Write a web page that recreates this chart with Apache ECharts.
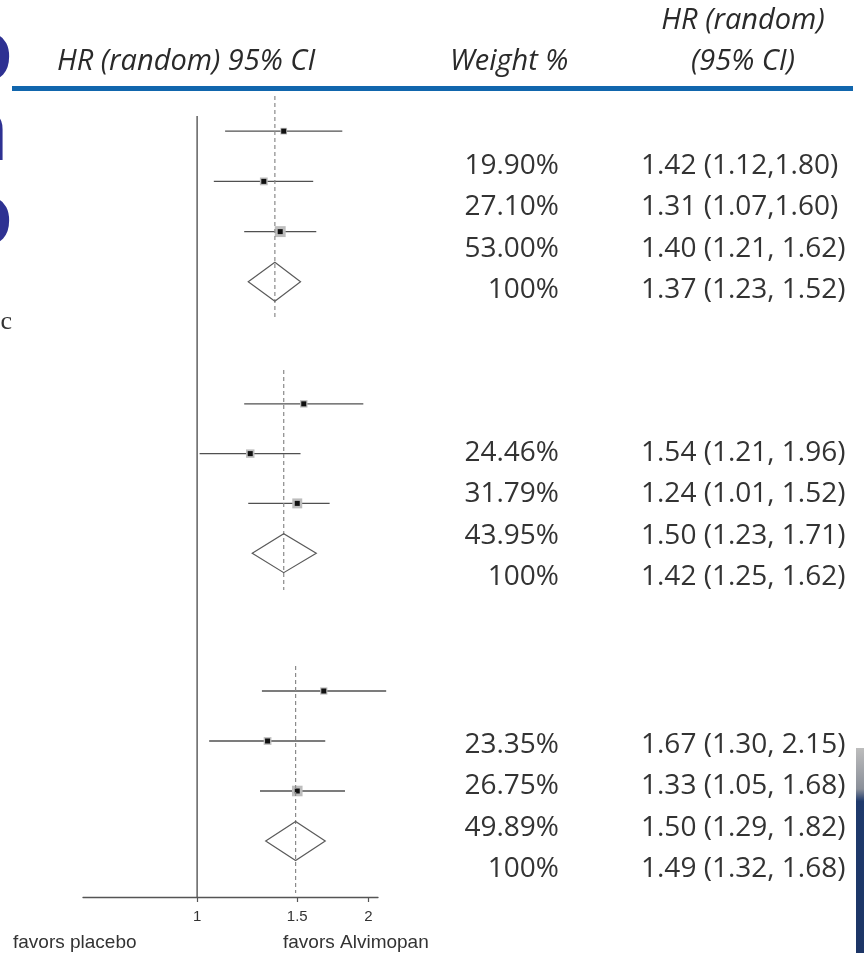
<!DOCTYPE html>
<html>
<head>
<meta charset="utf-8">
<title>Forest plot – HR (random)</title>
<script src="https://cdn.jsdelivr.net/npm/echarts@6/dist/echarts.min.js"></script>
<style>
  html, body { margin: 0; padding: 0; background: #fff; }
  #chart { width: 864px; height: 953px; }
</style>
</head>
<body>
<div id="chart"></div>
<script>
// Study-level hazard ratios per analysis block (three studies each)
const studyHR     = [[1.42, 1.31, 1.40], [1.54, 1.24, 1.50], [1.67, 1.33, 1.50]];
const studyLower  = [[1.12, 1.07, 1.21], [1.21, 1.01, 1.23], [1.30, 1.05, 1.29]];
const studyUpper  = [[1.80, 1.60, 1.62], [1.96, 1.52, 1.71], [2.15, 1.68, 1.82]];
const studyWeight = [[19.90, 27.10, 53.00], [24.46, 31.79, 43.95], [23.35, 26.75, 49.89]];

// Pooled (random-effects) estimates per block
const pooledHR    = [1.37, 1.42, 1.49];
const pooledLower = [1.23, 1.25, 1.32];
const pooledUpper = [1.52, 1.62, 1.68];

// Axis ticks (hazard ratio)
const axisTicks = [1, 1.5, 2];

// Header and footer texts
const headerLeft = 'HR (random) 95% CI';
const headerWeight = 'Weight %';
const headerHR = ['HR (random)', '(95% CI)'];
const footerLeft = 'favors placebo';
const footerRight = 'favors Alvimopan';

const ln = Math.log;
const X_MIN = ln(0.63), X_MAX = ln(2.08);
const PLOT_LEFT = 83, PLOT_WIDTH = 295;

// vertical extent of each block (dashed line span) and its y-range in row units
const blockLayout = [
  { top: 96,  height: 222, min: -0.70, max: 3.72 },
  { top: 370, height: 220, min: -0.68, max: 3.74 },
  { top: 666, height: 227, min: -0.50, max: 4.04 }
];

const grids = [], xAxes = [], yAxes = [], series = [];

blockLayout.forEach((b, g) => {
  grids.push({ left: PLOT_LEFT, width: PLOT_WIDTH, top: b.top, height: b.height });
  xAxes.push({ gridIndex: g, type: 'value', min: X_MIN, max: X_MAX, show: false });
  yAxes.push({ gridIndex: g, type: 'value', min: b.min, max: b.max, inverse: true, show: false });

  const studies = studyHR[g].map((hr, i) =>
    [i, ln(hr), ln(studyLower[g][i]), ln(studyUpper[g][i]), studyWeight[g][i]]);

  series.push({
    type: 'custom',
    xAxisIndex: g, yAxisIndex: g,
    silent: true,
    data: studies,
    renderItem: function (params, api) {
      const row = api.value(0);
      const pE = api.coord([api.value(1), row]);
      const pL = api.coord([api.value(2), row]);
      const pH = api.coord([api.value(3), row]);
      const box = 1.5 * Math.sqrt(api.value(4));
      return {
        type: 'group',
        children: [
          { type: 'line', shape: { x1: pL[0], y1: pL[1], x2: pH[0], y2: pH[1] },
            style: { stroke: '#505050', lineWidth: 1.4 } },
          { type: 'rect', shape: { x: pE[0] - box / 2, y: pE[1] - box / 2, width: box, height: box },
            style: { fill: '#bdbdbd' } },
          { type: 'rect', shape: { x: pE[0] - 2.5, y: pE[1] - 2.5, width: 5, height: 5 },
            style: { fill: '#111' } }
        ]
      };
    }
  });

  // pooled diamond plus dashed reference line at the pooled estimate
  series.push({
    type: 'custom',
    xAxisIndex: g, yAxisIndex: g,
    silent: true,
    data: [[3, ln(pooledHR[g]), ln(pooledLower[g]), ln(pooledUpper[g])]],
    renderItem: function (params, api) {
      const row = api.value(0);
      const pE = api.coord([api.value(1), row]);
      const pL = api.coord([api.value(2), row]);
      const pH = api.coord([api.value(3), row]);
      const cs = params.coordSys;
      const half = 19.5;
      return {
        type: 'group',
        children: [
          { type: 'line', shape: { x1: pE[0], y1: cs.y, x2: pE[0], y2: cs.y + cs.height },
            style: { stroke: '#8a8a8a', lineWidth: 1.2, lineDash: [4, 3] } },
          { type: 'polygon',
            shape: { points: [[pL[0], pE[1]], [pE[0], pE[1] - half], [pH[0], pE[1]], [pE[0], pE[1] + half]] },
            style: { fill: 'rgba(255,255,255,0)', stroke: '#5a5a5a', lineWidth: 1.2 } }
        ]
      };
    }
  });
});

// Shared HR axis with the line of no effect
const axisGrid = blockLayout.length;
grids.push({ left: PLOT_LEFT, width: PLOT_WIDTH, top: 116, height: 781 });
xAxes.push({
  gridIndex: axisGrid, type: 'value', min: X_MIN, max: X_MAX,
  splitLine: { show: false },
  axisLine: { show: true, lineStyle: { color: '#555', width: 1.3 } },
  axisTick: { show: true, customValues: axisTicks.map(ln), length: 5,
              lineStyle: { color: '#555', width: 1.2 } },
  axisLabel: { show: true, customValues: axisTicks.map(ln), margin: 12,
               color: '#333', fontSize: 15, fontFamily: 'Liberation Sans',
               formatter: v => String(Math.round(Math.exp(v) * 10) / 10) }
});
yAxes.push({ gridIndex: axisGrid, type: 'value', min: 0, max: 1, show: false });
series.push({
  type: 'custom',
  xAxisIndex: axisGrid, yAxisIndex: axisGrid,
  silent: true,
  data: [[ln(1)]],
  renderItem: function (params, api) {
    const p = api.coord([api.value(0), 0]);
    const cs = params.coordSys;
    return { type: 'line', shape: { x1: p[0], y1: cs.y, x2: p[0], y2: cs.y + cs.height },
             style: { stroke: '#555', lineWidth: 1.4 } };
  }
});

// Right-hand text columns
const textTops = [166, 453, 745];
const ROW_STEP = 41.3;
const textFont = '28px "Open Sans"';
const graphics = [];

function ciText(g, hr, lo, hi, compact) {
  return hr.toFixed(2) + ' (' + lo.toFixed(2) + (compact ? ',' : ', ') + hi.toFixed(2) + ')';
}

textTops.forEach((top, g) => {
  studyWeight[g].forEach((w, i) => {
    const y = top + i * ROW_STEP;
    const compact = (g === 0 && i < 2);
    graphics.push({ type: 'text', x: 559, y: y,
      style: { text: w.toFixed(2) + '%', font: textFont, fill: '#333', align: 'right', verticalAlign: 'middle' } });
    graphics.push({ type: 'text', x: 641, y: y,
      style: { text: ciText(g, studyHR[g][i], studyLower[g][i], studyUpper[g][i], compact),
               font: textFont, fill: '#333', align: 'left', verticalAlign: 'middle' } });
  });
  const yP = top + 3 * ROW_STEP;
  graphics.push({ type: 'text', x: 559, y: yP,
    style: { text: '100%', font: textFont, fill: '#333', align: 'right', verticalAlign: 'middle' } });
  graphics.push({ type: 'text', x: 641, y: yP,
    style: { text: ciText(g, pooledHR[g], pooledLower[g], pooledUpper[g], false),
             font: textFont, fill: '#333', align: 'left', verticalAlign: 'middle' } });
});

// Header
const headFont = 'italic 29px "Open Sans"';
graphics.push(
  { type: 'text', x: 57, y: 62, style: { text: headerLeft, font: headFont, fill: '#2a2a2a', verticalAlign: 'middle' } },
  { type: 'text', x: 450, y: 62, style: { text: headerWeight, font: headFont, fill: '#2a2a2a', verticalAlign: 'middle' } },
  { type: 'text', x: 743, y: 21, style: { text: headerHR[0], font: headFont, fill: '#2a2a2a', align: 'center', verticalAlign: 'middle' } },
  { type: 'text', x: 743, y: 62, style: { text: headerHR[1], font: headFont, fill: '#2a2a2a', align: 'center', verticalAlign: 'middle' } },
  { type: 'rect', shape: { x: 12, y: 86, width: 841, height: 5 }, style: { fill: '#1166ad' } }
);

// Footer captions
const footFont = '19px "Liberation Sans"';
graphics.push(
  { type: 'text', x: 13, y: 943, style: { text: footerLeft, font: footFont, fill: '#333', verticalAlign: 'middle' } },
  { type: 'text', x: 283, y: 943, style: { text: footerRight, font: footFont, fill: '#333', verticalAlign: 'middle' } }
);

// Slide fragments at the edges
const edgeFont = 'bold 86px "Open Sans"';
graphics.push(
  { type: 'text', x: 13, y: 55, style: { text: 'o', font: edgeFont, fill: '#2e3192', align: 'right', verticalAlign: 'middle' } },
  { type: 'text', x: 9, y: 135, style: { text: 'n', font: edgeFont, fill: '#2e3192', align: 'right', verticalAlign: 'middle' } },
  { type: 'text', x: 13, y: 219, style: { text: 'o', font: edgeFont, fill: '#2e3192', align: 'right', verticalAlign: 'middle' } },
  { type: 'text', x: 12, y: 322, style: { text: 'c', font: '26px "Liberation Serif"', fill: '#333', align: 'right', verticalAlign: 'middle' } },
  { type: 'rect', shape: { x: 856, y: 748, width: 8, height: 205 },
    style: { fill: new echarts.graphic.LinearGradient(0, 0, 0, 1, [
      { offset: 0, color: '#bdbdbd' }, { offset: 0.2, color: '#8a8f99' },
      { offset: 0.26, color: '#1f3a6c' }, { offset: 1, color: '#1c3566' }]) } }
);

const chart = echarts.init(document.getElementById('chart'), null, { renderer: 'canvas' });
chart.setOption({
  backgroundColor: '#fff',
  animation: false,
  grid: grids,
  xAxis: xAxes,
  yAxis: yAxes,
  series: series,
  graphic: { elements: graphics }
});
</script>
</body>
</html>
